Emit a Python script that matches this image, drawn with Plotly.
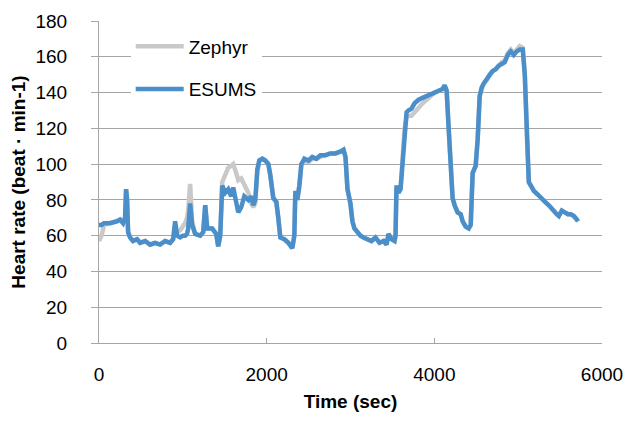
import plotly.graph_objects as go

# Time (sec)
time_s = [0, 30, 60, 131, 215, 251, 287, 311, 323, 335, 347, 370, 406, 454, 490, 550, 609, 669, 729, 789, 848, 884,
          908, 932, 968, 1000, 1028, 1050, 1064, 1087, 1111, 1147, 1207, 1243, 1267, 1291, 1350, 1398, 1422, 1446,
          1470, 1506, 1542, 1577, 1601, 1637, 1661, 1697, 1733, 1781, 1816, 1840, 1864, 1888, 1912, 1948, 1984,
          2020, 2043, 2079, 2115, 2139, 2163, 2211, 2259, 2306, 2330, 2342, 2366, 2390, 2414, 2450, 2498, 2545,
          2593, 2641, 2701, 2760, 2820, 2880, 2916, 2940, 2964, 2999, 3023, 3047, 3083, 3119, 3155, 3203, 3250,
          3298, 3346, 3394, 3430, 3454, 3489, 3525, 3537, 3549, 3573, 3597, 3621, 3645, 3669, 3693, 3728, 3764,
          3812, 3860, 3908, 3955, 4003, 4051, 4099, 4123, 4147, 4171, 4194, 4218, 4242, 4278, 4314, 4338, 4374,
          4410, 4434, 4446, 4457, 4493, 4517, 4541, 4565, 4589, 4625, 4661, 4696, 4732, 4768, 4804, 4840, 4876,
          4912, 4947, 4983, 5019, 5055, 5079, 5103, 5127, 5151, 5187, 5234, 5270, 5318, 5366, 5413, 5461, 5485,
          5521, 5557, 5593, 5628, 5664, 5700, 5713]

esums = [66, 66, 67, 67, 68, 69, 67, 70, 86, 80, 62, 59, 57, 58, 56, 57, 55, 56, 55, 57, 56, 58,
         68, 60, 59, 60, 60, 61, 64, 78, 66, 61, 60, 62, 77, 64, 64, 61, 54, 60,
         88, 84, 86, 82, 87, 78, 73, 76, 82, 80, 82, 77, 80, 97, 102, 103, 102,
         100, 94, 81, 79, 70, 59, 58, 56, 53, 60, 85, 80, 88, 100, 103, 102, 104,
         103, 105, 105, 106, 106, 107, 108, 104, 86, 78, 68, 64, 62, 60, 59, 58, 57,
         59, 56, 57, 55, 61, 58, 57, 60, 88, 84, 86, 100, 121, 129, 130, 131, 134,
         136, 137, 138, 139, 140, 141, 142, 144, 141, 120, 95, 81, 77, 73, 72, 68, 65,
         64, 66, 80, 95, 99, 114, 138, 143, 145, 148, 150, 152, 153, 155, 156, 157, 161,
         163, 161, 163, 164, 164, 150, 118, 90, 88, 85, 83, 81, 79, 77, 74, 72, 71,
         74, 73, 72, 72, 71, 69, 68]

zephyr = [57, 60, 66, 67, 68, 69, 67, 70, 86, 80, 62, 59, 57, 58, 56, 57, 55, 56, 55, 57, 56, 58,
          62, 62, 63, 65, 67, 70, 74, 89, 68, 61, 60, 62, 77, 64, 64, 61, 54, 60,
          90, 94, 98, 99, 100, 95, 91, 92, 88, 84, 78, 76, 78, 95, 102, 103, 102,
          100, 94, 81, 79, 70, 59, 58, 56, 53, 60, 85, 80, 88, 100, 102, 101, 103,
          103, 104, 105, 106, 106, 107, 108, 104, 86, 78, 68, 64, 62, 60, 59, 58, 57,
          59, 56, 57, 55, 61, 58, 57, 60, 88, 84, 86, 100, 120, 126, 127, 127, 129,
          132, 134, 136, 138, 140, 141, 142, 144, 141, 120, 95, 81, 77, 73, 72, 68, 65,
          64, 66, 80, 95, 99, 114, 138, 142, 145, 147, 150, 152, 153, 155, 157, 158, 162,
          164, 162, 164, 166, 165, 150, 118, 90, 88, 85, 83, 81, 79, 77, 74, 72, 71,
          74, 73, 72, 72, 71, 69, 68]

x_ticks = [0, 2000, 4000, 6000]
y_ticks = [0, 20, 40, 60, 80, 100, 120, 140, 160, 180]

FONT = "Liberation Sans"
GRID = "#A6A6A6"

fig = go.Figure()
fig.add_trace(go.Scatter(x=time_s, y=zephyr, mode="lines", name="Zephyr",
                         legendgroup="a",
                         line=dict(color="#C9C9C9", width=4.5)))
fig.add_trace(go.Scatter(x=time_s, y=esums, mode="lines", name="ESUMS",
                         legendgroup="b",
                         line=dict(color="#4A8FCA", width=4.5)))

fig.update_layout(
    width=629, height=424,
    margin=dict(l=99, r=27, t=21, b=81),
    paper_bgcolor="white", plot_bgcolor="white",
    font=dict(family=FONT, size=19, color="#000000"),
    showlegend=True,
    legend=dict(x=0.063, y=0.98, xanchor="left", yanchor="top",
                bgcolor="rgba(255,255,255,1)", borderwidth=0,
                font=dict(family=FONT, size=19, color="#000000"),
                itemwidth=48, tracegroupgap=15, traceorder="grouped"),
    xaxis=dict(range=[0, 6000], tickvals=x_ticks, ticktext=[str(v) for v in x_ticks],
               showgrid=False, zeroline=False, showline=True, linecolor=GRID, linewidth=1,
               ticks="inside", ticklen=5, tickcolor=GRID, ticklabelstandoff=14,
               automargin=False,
               title=dict(text="<b>Time (sec)</b>", font=dict(family=FONT, size=19), standoff=10)),
    yaxis=dict(range=[0, 180], tickvals=y_ticks, ticktext=[str(v) for v in y_ticks],
               showgrid=True, gridcolor=GRID, gridwidth=1, zeroline=False,
               showline=True, linecolor=GRID, linewidth=1,
               ticks="outside", ticklen=7, tickcolor=GRID, ticklabelstandoff=20,
               automargin=False,
               title=dict(text="<b>Heart rate (beat · min-1)</b>", font=dict(family=FONT, size=19),
                          standoff=4)),
)

fig.write_html("out.html",
               config={"displayModeBar": False},
               post_script="document.body.style.margin='0';document.body.style.padding='0';")
